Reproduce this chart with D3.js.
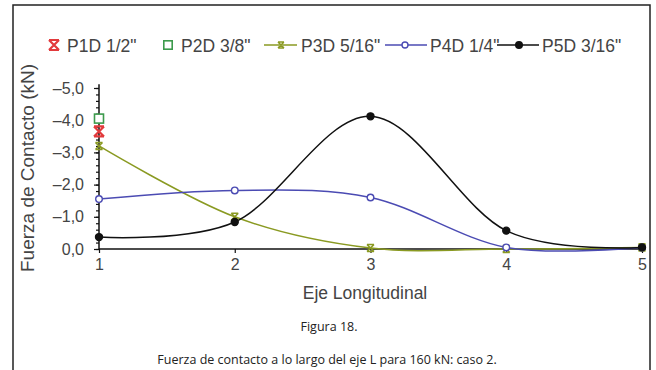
<!DOCTYPE html>
<html><head><meta charset="utf-8">
<script src="https://cdn.jsdelivr.net/npm/d3@7"></script>
<style>
html,body{margin:0;padding:0;background:#fff;}
svg{display:block;}
</style></head>
<body>
<svg id="c" width="656" height="370"></svg>
<script>
// ---- data ----
const categories = [1, 2, 3, 4, 5];
const seriesNames = ['P1D 1/2"', 'P2D 3/8"', 'P3D 5/16"', 'P4D 1/4"', 'P5D 3/16"'];
const p1d = [-3.65];
const p2d = [-4.05];
const p3d = [-3.2, -1.0, -0.03, 0.0, -0.05];
const p4d = [-1.55, -1.82, -1.6, -0.05, -0.05];
const p5d = [-0.37, -0.84, -4.12, -0.57, -0.05];
const yTicks = [0, -1, -2, -3, -4, -5];
const xTicks = [1, 2, 3, 4, 5];
const xTitle = 'Eje Longitudinal';
const yTitle = 'Fuerza de Contacto (kN)';
const figLabel = 'Figura 18.';
const figCaption = 'Fuerza de contacto a lo largo del eje L para 160 kN: caso 2.';

// ---- styles ----
const colors = {p1d:'#e23a3c', p2d:'#3c9a4c', p3d:'#8a9a22', p4d:'#4b4bb3', p5d:'#111'};
const svg = d3.select('#c');
const font = 'Liberation Sans, Arial, sans-serif';

// frame
svg.append('rect').attr('x',13).attr('y',5).attr('width',637).attr('height',400)
  .attr('fill','none').attr('stroke','#222').attr('stroke-width',1.5);

const x = d3.scaleLinear().domain([1,5]).range([99,642]);
const y = d3.scaleLinear().domain([0,-5]).range([249,88]);

// y axis
const fmt = d => (d<0?'\u2013':'') + Math.abs(d).toFixed(1).replace('.',',');
const gy = svg.append('g').attr('transform','translate(99,0)');
gy.call(d3.axisLeft(y).tickValues(d3.range(0,-5.01,-0.2)).tickSize(3).tickFormat(''));
gy.call(g=>g.select('.domain').remove());
const gy2 = svg.append('g').attr('transform','translate(99,0)');
gy2.call(d3.axisLeft(y).tickValues(yTicks).tickSize(5).tickPadding(10).tickFormat(fmt));
gy2.select('.domain').remove();
gy2.selectAll('text').attr('font-family',font).attr('font-size',16).attr('fill','#444');
svg.selectAll('.tick line').attr('stroke','#111').attr('stroke-width',1.2);
svg.append('line').attr('x1',99).attr('x2',99).attr('y1',y(0)).attr('y2',y(-5.12))
  .attr('stroke','#111').attr('stroke-width',1.5);

// x axis
const gx = svg.append('g').attr('transform','translate(0,249)');
gx.call(d3.axisBottom(x).tickValues(xTicks).tickSize(4).tickPadding(6).tickFormat(d3.format('d')));
gx.select('.domain').remove();
gx.selectAll('text').attr('font-family',font).attr('font-size',16).attr('fill','#444');
gx.selectAll('.tick line').attr('stroke','#111').attr('stroke-width',1.2);
svg.append('line').attr('x1',99).attr('x2',646).attr('y1',249).attr('y2',249)
  .attr('stroke','#111').attr('stroke-width',1.5);

// titles
svg.append('text').attr('x',365).attr('y',299).attr('text-anchor','middle')
  .attr('font-family',font).attr('font-size',17.5).attr('fill','#444').text(xTitle);
svg.append('text').attr('transform','translate(34,168) rotate(-90)').attr('text-anchor','middle')
  .attr('font-family',font).attr('font-size',19).attr('fill','#444').text(yTitle);

// lines
const line = d3.line().x((d,i)=>x(categories[i])).y(d=>y(d)).curve(d3.curveCatmullRom.alpha(0));
const plot = svg.append('g');
[['p3d',p3d],['p4d',p4d],['p5d',p5d]].forEach(([k,arr])=>{
  plot.append('path').attr('d',line(arr)).attr('fill','none')
    .attr('stroke',colors[k]).attr('stroke-width',1.5);
});

function star(g, s, col, sw){
  g.append('path').attr('d',`M${-s},${-s}L${s},${s}M${-s},${s}L${s},${-s}M${-s},${-s}L${s},${-s}M${-s},${s}L${s},${s}`)
    .attr('stroke',col).attr('stroke-width',sw).attr('fill','none');
}
function square(g, s, col){
  g.append('rect').attr('x',-s).attr('y',-s).attr('width',2*s).attr('height',2*s)
    .attr('fill','#fff').attr('stroke',col).attr('stroke-width',1.6);
}
function circ(g, r, col, fill){
  g.append('circle').attr('r',r).attr('fill',fill).attr('stroke',col).attr('stroke-width',1.4);
}
// markers
p3d.forEach((v,i)=>star(plot.append('g').attr('transform',`translate(${x(categories[i])},${y(v)})`),3.5,colors.p3d,1.6));
p4d.forEach((v,i)=>circ(plot.append('g').attr('transform',`translate(${x(categories[i])},${y(v)})`),3.3,colors.p4d,'#fff'));
p5d.forEach((v,i)=>circ(plot.append('g').attr('transform',`translate(${x(categories[i])},${y(v)})`),3.5,colors.p5d,colors.p5d));
p2d.forEach((v,i)=>square(plot.append('g').attr('transform',`translate(${x(categories[i])},${y(v)})`),4.5,colors.p2d));
p1d.forEach((v,i)=>star(plot.append('g').attr('transform',`translate(${x(categories[i])},${y(v)})`),5,colors.p1d,2.2));

// legend
const leg = svg.append('g').attr('transform','translate(0,45)');
const legItems = [
  {k:'p1d', name:seriesNames[0], type:'star1', mx:54, tx:67},
  {k:'p2d', name:seriesNames[1], type:'square', mx:168, tx:181},
  {k:'p3d', name:seriesNames[2], type:'line-star', lx:[264,297], mx:281, tx:301},
  {k:'p4d', name:seriesNames[3], type:'line-open', lx:[385,427], mx:405, tx:430},
  {k:'p5d', name:seriesNames[4], type:'line-fill', lx:[497,539], mx:519, tx:542},
];
legItems.forEach(it=>{
  if(it.lx) leg.append('line').attr('x1',it.lx[0]).attr('x2',it.lx[1]).attr('stroke',colors[it.k]).attr('stroke-width',1.5);
  const g = leg.append('g').attr('transform',`translate(${it.mx},0)`);
  if(it.type==='star1') star(g,5,colors.p1d,2.2);
  if(it.type==='square') square(g,4.2,colors.p2d);
  if(it.type==='line-star') star(g,3,colors.p3d,1.5);
  if(it.type==='line-open') circ(g,3,colors.p4d,'#fff');
  if(it.type==='line-fill') circ(g,3.3,colors.p5d,colors.p5d);
  leg.append('text').attr('x',it.tx).attr('y',6.5).attr('font-family',font).attr('font-size',17.5)
    .attr('fill','#444').text(it.name);
});

// captions
const cfont = 'Open Sans, Noto Sans, sans-serif';
svg.append('text').attr('x',329).attr('y',331).attr('text-anchor','middle')
  .attr('font-family',cfont).attr('font-size',12.5).attr('fill','#222').text(figLabel);
svg.append('text').attr('x',327).attr('y',364).attr('text-anchor','middle')
  .attr('font-family',cfont).attr('font-size',12.5).attr('fill','#222').text(figCaption);
</script>
</body></html>
